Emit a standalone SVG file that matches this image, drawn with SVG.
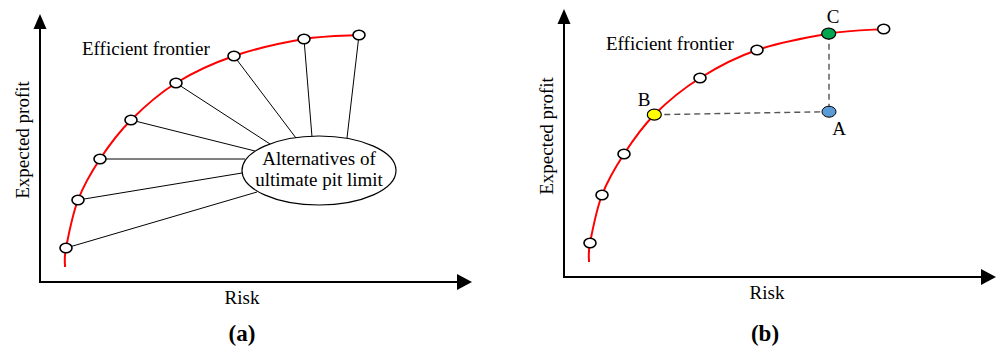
<svg xmlns="http://www.w3.org/2000/svg" width="997" height="351" viewBox="0 0 997 351">
<style>
  text { font-family: "Liberation Serif", "Times New Roman", serif; fill: #000; }
  .lbl { font-size: 19px; }
  .cap { font-size: 23px; font-weight: bold; }
  .axis { stroke: #000; stroke-width: 2; fill: none; }
  .head { fill: #000; }
  .front { stroke: #ff0000; stroke-width: 2; fill: none; }
  .pt { fill: #fff; stroke: #000; stroke-width: 1.6; }
  .link { stroke: #000; stroke-width: 1; fill: none; }
  .dash { stroke: #555; stroke-width: 1.4; stroke-dasharray: 6 4; fill: none; }
</style>
<rect width="997" height="351" fill="#fff"/>

<!-- Panel (a) -->
<g id="axes-a">
  <line class="axis" x1="40" y1="24" x2="40" y2="282"/>
  <line class="axis" x1="39" y1="282" x2="460" y2="282"/>
  <polygon class="head" points="40,14 33.5,29 46.5,29"/>
  <polygon class="head" points="472,282 457,274 457,290"/>
  <text class="lbl" text-anchor="middle" x="242" y="304">Risk</text>
  <text class="lbl" text-anchor="middle" transform="translate(29,140) rotate(-90)">Expected profit</text>
  <text class="cap" text-anchor="middle" x="242" y="341">(a)</text>
</g>
<path id="frontier-a" class="front" d="M65,267 C65.2,263.8 63.8,259.2 66,248 C68.2,236.8 72.3,214.8 78,200 C83.7,185.2 91.2,172.3 100,159 C108.8,145.7 118.3,132.7 131,120 C143.7,107.3 158.8,93.7 176,83 C193.2,72.3 212.7,63.3 234,56 C255.3,48.7 283.2,42.5 304,39 C324.8,35.5 349.8,35.7 359,35"/>
<text id="label-ef-a" class="lbl" x="82" y="55">Efficient frontier</text>
<g id="connectors-a">
  <line class="link" x1="66" y1="248" x2="257" y2="192"/>
  <line class="link" x1="78" y1="200" x2="242" y2="173"/>
  <line class="link" x1="100" y1="159" x2="245" y2="159"/>
  <line class="link" x1="131" y1="120" x2="255" y2="151"/>
  <line class="link" x1="176" y1="83" x2="270" y2="144"/>
  <line class="link" x1="234" y1="56" x2="296" y2="138"/>
  <line class="link" x1="304" y1="39" x2="312" y2="137"/>
  <line class="link" x1="359" y1="35" x2="347" y2="138"/>
</g>
<g id="points-a">
  <ellipse class="pt" cx="66" cy="248" rx="6" ry="4.8"/>
  <ellipse class="pt" cx="78" cy="200" rx="6" ry="4.8"/>
  <ellipse class="pt" cx="100" cy="159" rx="6" ry="4.8"/>
  <ellipse class="pt" cx="131" cy="120" rx="6" ry="4.8"/>
  <ellipse class="pt" cx="176" cy="83" rx="6" ry="4.8"/>
  <ellipse class="pt" cx="234" cy="56" rx="6" ry="4.8"/>
  <ellipse class="pt" cx="304" cy="39" rx="6" ry="4.8"/>
  <ellipse class="pt" cx="359" cy="35" rx="6" ry="4.8"/>
</g>
<g id="node-alternatives">
  <ellipse cx="319" cy="170.5" rx="77" ry="34.5" fill="#fff" stroke="#000" stroke-width="1.2"/>
  <text class="lbl" text-anchor="middle" x="319" y="165">Alternatives of</text>
  <text class="lbl" text-anchor="middle" x="319" y="186">ultimate pit limit</text>
</g>

<!-- Panel (b) -->
<g id="axes-b">
  <line class="axis" x1="564" y1="20" x2="564" y2="277"/>
  <line class="axis" x1="563" y1="277" x2="984" y2="277"/>
  <polygon class="head" points="564,9 557.5,24 570.5,24"/>
  <polygon class="head" points="996,277 981,269 981,285"/>
  <text class="lbl" text-anchor="middle" x="767" y="299">Risk</text>
  <text class="lbl" text-anchor="middle" transform="translate(553,136) rotate(-90)">Expected profit</text>
  <text class="cap" text-anchor="middle" x="765" y="341">(b)</text>
</g>
<path id="frontier-b" class="front" d="M589,262 C589.2,258.8 587.8,254.2 590,243 C592.2,231.8 596.3,209.8 602,195 C607.7,180.2 615.3,167.4 624,154 C632.7,140.6 641.6,127.4 654.3,114.7 C667,102 682.9,88.8 700,78 C717.1,67.2 735.5,57.4 757,50 C778.5,42.6 807.6,37.2 828.7,33.7 C849.8,30.2 874.5,29.8 883.7,29"/>
<text id="label-ef-b" class="lbl" x="606" y="50">Efficient frontier</text>
<g id="connectors-b">
  <line class="dash" x1="654.3" y1="114.7" x2="829" y2="111.7"/>
  <line class="dash" x1="829" y1="33.7" x2="829" y2="111.7"/>
</g>
<g id="points-b">
  <ellipse class="pt" cx="590" cy="243" rx="6" ry="4.8"/>
  <ellipse class="pt" cx="602" cy="195" rx="6" ry="4.8"/>
  <ellipse class="pt" cx="624" cy="154" rx="6" ry="4.8"/>
  <ellipse class="pt" cx="700" cy="78" rx="6" ry="4.8"/>
  <ellipse class="pt" cx="757" cy="50" rx="6" ry="4.8"/>
  <ellipse class="pt" cx="883.7" cy="29" rx="6" ry="4.8"/>
</g>
<g id="node-B">
  <ellipse cx="654.3" cy="114.7" rx="7" ry="5.5" fill="#ffff00" stroke="#000" stroke-width="1.2"/>
  <text class="lbl" text-anchor="middle" x="644" y="106">B</text>
</g>
<g id="node-C">
  <ellipse cx="828.7" cy="33.7" rx="7" ry="5.5" fill="#00a550" stroke="#000" stroke-width="1.2"/>
  <text class="lbl" text-anchor="middle" x="833" y="23">C</text>
</g>
<g id="node-A">
  <ellipse cx="829" cy="111.7" rx="7" ry="5.5" fill="#5b9bd5" stroke="#000" stroke-width="1"/>
  <text class="lbl" text-anchor="middle" x="839" y="135">A</text>
</g>
</svg>
